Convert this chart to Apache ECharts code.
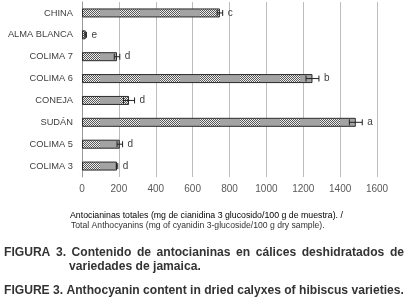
<!DOCTYPE html><html><head><meta charset="utf-8">
<script src="https://cdn.jsdelivr.net/npm/echarts@6/dist/echarts.min.js"></script>
<style>html,body{margin:0;padding:0;background:#fff}#c{width:408px;height:302px}</style>
</head><body><div id="c"></div><script>
const categories = ['CHINA','ALMA BLANCA','COLIMA 7','COLIMA 6','CONEJA','SUDÁN','COLIMA 5','COLIMA 3'];
const values = [748, 20, 190, 1250, 255, 1485, 205, 190];
const errors = [15, 4, 15, 35, 30, 35, 15, 4];
const letters = ['c','e','d','b','d','a','d','d'];
const axisLine1 = 'Antocianinas totales (mg de cianidina 3 glucosido/100 g de muestra). /';
const axisLine2 = 'Total Anthocyanins (mg of cyanidin 3-glucoside/100 g dry sample).';
const caption1 = 'FIGURA 3. Contenido de antocianinas en cálices deshidratados de';
const caption2 = 'variedades de jamaica.';
const caption3 = 'FIGURE 3. Anthocyanin content in dried calyxes of hibiscus varieties.';

// bar fill pattern
const pc = document.createElement('canvas');
pc.width = 40; pc.height = 40;
const pctx = pc.getContext('2d');
pctx.fillStyle = '#a3a3a3'; pctx.fillRect(0,0,40,40);
for (let y=0;y<40;y++) for (let x=0;x<20;x++) {
  pctx.fillStyle = ((x+y)%2===0) ? '#5a5a5a' : '#eeeeee';
  pctx.fillRect(x,y,1,1);
}

const FONT = "'Liberation Sans', Arial, sans-serif";
const mc = document.createElement('canvas').getContext('2d');
function measure(t, f){ mc.font = f; return mc.measureText(t).width; }
function fitSize(t, weight, target){ const w = measure(t, weight+' 10px '+FONT); return 10*target/w; }

const graphics = [];
const s1 = fitSize(axisLine1, 'normal', 273);
graphics.push({type:'text', left:70, top:211, style:{text:axisLine1, font:'normal '+s1.toFixed(2)+'px '+FONT, fill:'#000'}});
const s2 = fitSize(axisLine2, 'normal', 254);
graphics.push({type:'text', left:71, top:221, style:{text:axisLine2, font:'normal '+s2.toFixed(2)+'px '+FONT, fill:'#333'}});
const capSize = fitSize(caption3, 'bold', 400);
const capFont = 'bold '+capSize.toFixed(2)+'px '+FONT;
graphics.push({type:'text', left:4, top:285, style:{text:caption3, font:capFont, fill:'#333'}});
const words = caption1.split(' ');
const ww = words.map(w=>measure(w, capFont));
const totalW = ww.reduce((a,b)=>a+b,0);
const gap = (400 - totalW)/(words.length-1);
let xx = 4;
words.forEach((w,i)=>{ graphics.push({type:'text', x:xx, y:247, style:{text:w, font:capFont, fill:'#333'}}); xx += ww[i]+gap; });
graphics.push({type:'text', left:69, top:261, style:{text:caption2, font:capFont, fill:'#333'}});

const chart = echarts.init(document.getElementById('c'), null, {renderer:'canvas'});
chart.setOption({
  animation:false,
  backgroundColor:'#fff',
  grid:{left:82, right:31, top:2, bottom:125, containLabel:false},
  xAxis:{type:'value', min:0, max:1600, interval:200,
    axisLine:{show:false}, axisTick:{show:false},
    splitLine:{lineStyle:{color:'#bdbdbd', width:1}},
    axisLabel:{color:'#595959', fontSize:10, fontFamily:FONT, margin:7, formatter:v=>String(v)}},
  yAxis:{type:'category', data:categories, inverse:true,
    axisLine:{show:true, lineStyle:{color:'#999'}}, axisTick:{show:false},
    axisLabel:{color:'#404040', fontSize:9.3, fontFamily:FONT, margin:9}},
  series:[
    {type:'bar', data:values, barWidth:9,
     itemStyle:{color:{image:pc, repeat:'repeat'}, borderColor:'#2b2b2b', borderWidth:1}},
    {type:'custom', data:values.map((v,i)=>[v, i, errors[i], letters[i]]),
     renderItem:function(params, api){
       const v = api.value(0), i = api.value(1), e = api.value(2);
       const p0 = api.coord([v-e, i]), p1 = api.coord([v+e, i]);
       const h = 3;
       return {type:'group', children:[
         {type:'line', shape:{x1:p0[0], y1:p0[1], x2:p1[0], y2:p1[1]}, style:{stroke:'#222', lineWidth:1}},
         {type:'line', shape:{x1:p0[0], y1:p0[1]-h, x2:p0[0], y2:p0[1]+h}, style:{stroke:'#222', lineWidth:1}},
         {type:'line', shape:{x1:p1[0], y1:p1[1]-h, x2:p1[0], y2:p1[1]+h}, style:{stroke:'#222', lineWidth:1}},
         {type:'text', x:p1[0]+5, y:p1[1], style:{text:letters[params.dataIndex], font:'10px '+FONT, fill:'#404040', verticalAlign:'middle'}}
       ]};
     }, z:5}
  ],
  graphic:graphics
});
</script></body></html>
